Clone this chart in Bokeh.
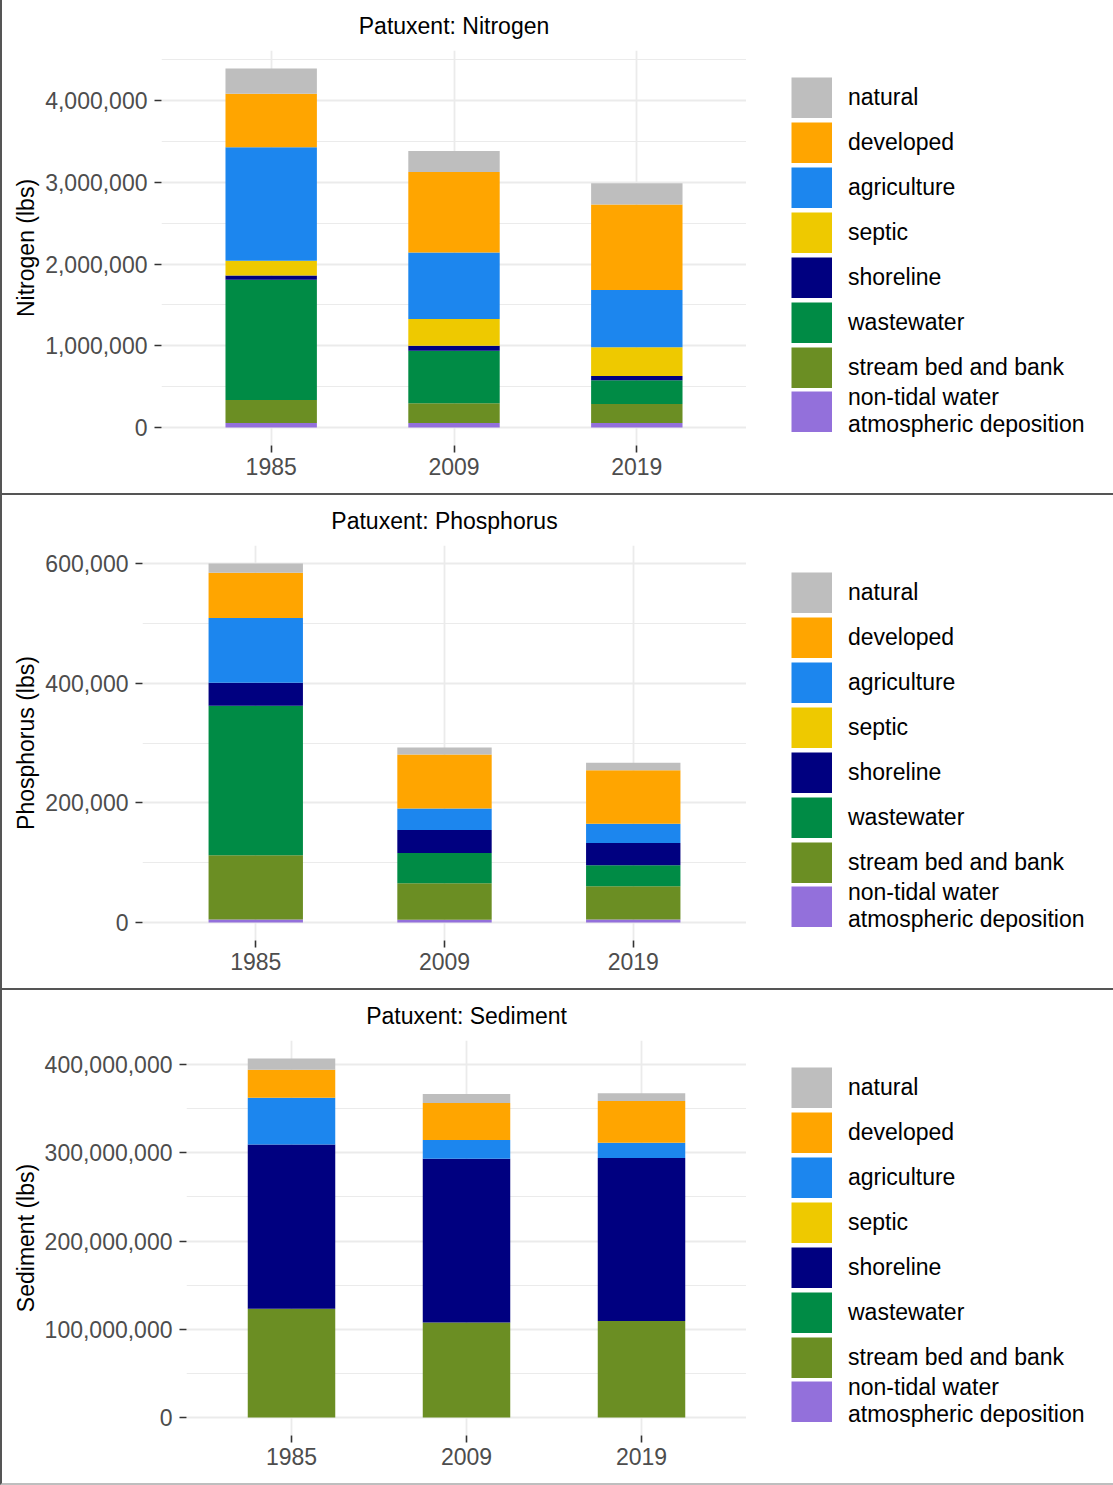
from bokeh.plotting import figure
from bokeh.layouts import column, row
from bokeh.models import (ColumnDataSource, FactorRange, Range1d, Legend, LegendItem,
                          SingleIntervalTicker, NumeralTickFormatter)
from bokeh.embed import file_html
from bokeh.resources import INLINE

# ---- data -------------------------------------------------------------
years = ["1985", "2009", "2019"]

# load sources, bottom of the stack first
source_keys = ["atm", "stream", "wastewater", "shoreline", "septic",
               "agriculture", "developed", "natural"]
source_labels = ["non-tidal water\natmospheric deposition", "stream bed and bank",
                 "wastewater", "shoreline", "septic", "agriculture", "developed", "natural"]
source_colors = ["#9370DB", "#6B8E23", "#008B45", "#000080", "#EEC900",
                 "#1C86EE", "#FFA500", "#BEBEBE"]

# Nitrogen (lbs)
n_atm = [57000, 57000, 57000]
n_stream = [281000, 241000, 232000]
n_wastewater = [1469000, 642000, 290000]
n_shoreline = [54000, 61000, 52000]
n_septic = [178000, 326000, 350000]
n_agriculture = [1388000, 814000, 700000]
n_developed = [656000, 985000, 1046000]
n_natural = [309000, 256000, 261000]

# Phosphorus (lbs)
p_atm = [5000, 4500, 5000]
p_stream = [107400, 61100, 55600]
p_wastewater = [249900, 50600, 35100]
p_shoreline = [38400, 38400, 37200]
p_septic = [0, 0, 0]
p_agriculture = [108500, 36200, 32400]
p_developed = [75600, 90200, 89500]
p_natural = [15500, 11700, 12300]

# Sediment (lbs)
s_atm = [0, 0, 0]
s_stream = [123400000, 107600000, 109400000]
s_wastewater = [0, 0, 0]
s_shoreline = [186100000, 185700000, 184600000]
s_septic = [0, 0, 0]
s_agriculture = [52900000, 21200000, 17400000]
s_developed = [31700000, 41900000, 47200000]
s_natural = [12800000, 10200000, 9000000]

nitrogen = [n_atm, n_stream, n_wastewater, n_shoreline, n_septic,
            n_agriculture, n_developed, n_natural]
phosphorus = [p_atm, p_stream, p_wastewater, p_shoreline, p_septic,
              p_agriculture, p_developed, p_natural]
sediment = [s_atm, s_stream, s_wastewater, s_shoreline, s_septic,
            s_agriculture, s_developed, s_natural]

FONT = "Liberation Sans"
FS = "23px"
GRID = "#EBEBEB"
PANEL_H = 493
CHART_W = 744
LEGEND_W = 367
TOP, BOTTOM = 50, 48


def chart(title, ylabel, series, interval, left):
    data = {"year": years}
    for key, vals in zip(source_keys, series):
        data[key] = vals
    src = ColumnDataSource(data)

    top = max(sum(v[i] for v in series) for i in range(len(years)))
    p = figure(width=CHART_W, height=PANEL_H, output_backend="svg", toolbar_location=None,
               x_range=FactorRange(factors=years, range_padding=0.1,
                                   range_padding_units="absolute"),
               y_range=Range1d(-0.05 * top, 1.05 * top),
               min_border_left=left, min_border_right=0,
               min_border_top=TOP, min_border_bottom=BOTTOM)
    p.outline_line_color = None
    p.background_fill_color = "white"
    p.border_fill_color = "white"

    p.title.text = title
    p.title.align = "center"
    p.title.vertical_align = "top"
    p.title.standoff = 20
    p.title.text_font = FONT
    p.title.text_font_size = FS
    p.title.text_font_style = "normal"
    p.title.text_color = "black"

    p.vbar_stack(source_keys, x="year", width=0.5, source=src,
                 fill_color=source_colors, line_color=None)

    p.yaxis.ticker = SingleIntervalTicker(interval=interval, num_minor_ticks=2)
    p.yaxis.formatter = NumeralTickFormatter(format="0,0")
    for ax in (p.xaxis, p.yaxis):
        ax.axis_line_color = None
        ax.major_tick_line_color = "#333333"
        ax.major_tick_line_width = 1.6
        ax.major_tick_out = 7
        ax.major_tick_in = 0
        ax.minor_tick_line_color = None
        ax.major_label_text_font = FONT
        ax.major_label_text_font_size = FS
        ax.major_label_text_color = "#4D4D4D"
    p.xaxis.major_label_standoff = 5
    p.yaxis.major_label_standoff = 7
    p.yaxis.axis_label = ylabel
    p.yaxis.axis_label_text_font = FONT
    p.yaxis.axis_label_text_font_size = FS
    p.yaxis.axis_label_text_font_style = "normal"
    p.yaxis.axis_label_text_color = "black"
    p.yaxis.axis_label_standoff = 3

    p.xgrid.grid_line_color = GRID
    p.xgrid.grid_line_width = 1.8
    p.ygrid.grid_line_color = GRID
    p.ygrid.grid_line_width = 1.8
    p.ygrid.minor_grid_line_color = GRID
    p.ygrid.minor_grid_line_width = 1.1
    return p


def key(items, location, margin):
    return Legend(items=items, location=location, orientation="vertical",
                  glyph_width=41, glyph_height=41, spacing=4, padding=0, margin=margin,
                  label_standoff=16, label_text_font=FONT, label_text_font_size=FS,
                  label_text_color="black", label_text_line_height=0.95,
                  border_line_color=None, background_fill_alpha=0)


def legend_panel():
    # key of load sources, natural at the top
    p = figure(width=LEGEND_W, height=PANEL_H, output_backend="svg", toolbar_location=None,
               x_range=Range1d(0, 1), y_range=Range1d(0, 1),
               x_axis_type=None, y_axis_type=None,
               min_border_left=18, min_border_top=TOP, min_border_right=0,
               min_border_bottom=BOTTOM)
    p.grid.visible = False
    p.outline_line_color = None
    p.border_fill_color = "white"
    items = []
    for lab, col in zip(source_labels[::-1], source_colors[::-1]):
        # key swatch only: the line lies outside the visible ranges
        r = p.line(x=[2, 3], y=[2, 2], line_color=col, line_width=41, line_cap="butt")
        items.append(LegendItem(label=lab, renderers=[r]))
    # single-line entries stacked from the top; the two-line entry keeps the
    # same row pitch as the others
    p.add_layout(key(items[:-1], "top_left", 27))
    p.add_layout(key(items[-1:], (27, 7), 0))
    return p


def panel(fig, bottom_color):
    return row(fig, legend_panel(), spacing=0,
               styles={"border-left": "2px solid #555555",
                       "border-bottom": f"2px solid {bottom_color}"})


p1 = chart("Patuxent: Nitrogen", "Nitrogen (lbs)", nitrogen, 1_000_000, 159)
p2 = chart("Patuxent: Phosphorus", "Phosphorus (lbs)", phosphorus, 200_000, 140)
p3 = chart("Patuxent: Sediment", "Sediment (lbs)", sediment, 100_000_000, 184)

page = column(panel(p1, "#555555"), panel(p2, "#555555"), panel(p3, "#BEBEBE"), spacing=0)
open("out.html", "w").write(file_html(page, INLINE))
